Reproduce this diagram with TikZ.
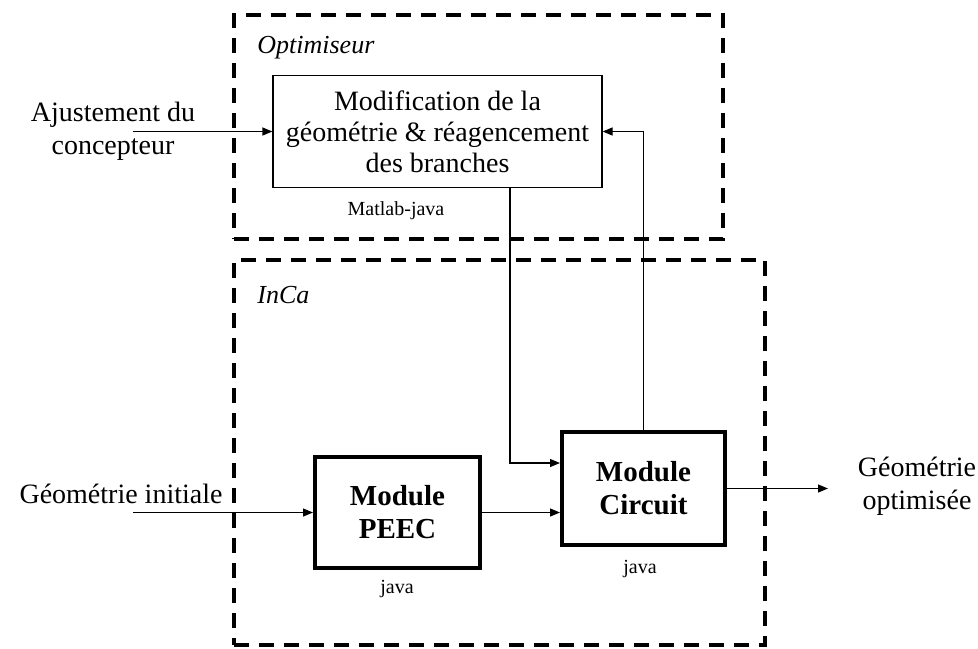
\documentclass[tikz,border=0pt]{standalone}
\usepackage{fontspec}
\setmainfont{Liberation Serif}
\usetikzlibrary{arrows.meta,calc}
\begin{document}
\begin{tikzpicture}[x=0.5pt,y=-0.5pt,
  groupbox/.style={draw,line width=1.8pt,dash pattern=on 7.5pt off 5pt,inner sep=0pt},
  thinbox/.style={draw,line width=0.6pt,inner sep=0pt,align=center,font=\fontsize{14}{15.5}\selectfont},
  modbox/.style={draw,line width=2pt,inner sep=0pt,align=center,font=\fontsize{14.5}{16.5}\selectfont\bfseries},
  lbl/.style={align=center,inner sep=0pt,font=\fontsize{14}{16.5}\selectfont},
  small/.style={inner sep=0pt,font=\fontsize{10}{12}\selectfont},
  title/.style={inner sep=0pt,anchor=west,font=\fontsize{13}{15}\selectfont\itshape},
  arr/.style={line width=0.6pt,-{Triangle[length=5pt,width=4pt]}},
  ln/.style={line width=0.6pt}]
\useasboundingbox (0,0) rectangle (978,648);
% group frames
\node[groupbox,minimum width=244.5pt,minimum height=112pt] (opt) at (478.5,127) {};
\node[groupbox,minimum width=265.5pt,minimum height=192.5pt] (inca) at (499.5,452.5) {};
\node[title] (optt) at (257,48) {Optimiseur};
\node[title] (incat) at (257,295) {InCa};
% blocks
\node[thinbox,minimum width=164.5pt,minimum height=56pt] (mod) at (437.5,131.5)
  {Modification de la\\g\'eom\'etrie \& r\'eagencement\\des branches};
\node[small] (mlj) at (396,211) {Matlab-java};
\node[modbox,minimum width=82.5pt,minimum height=55.5pt] (peec) at (397.5,512.5) {Module\\PEEC};
\node[small] (j1) at (397,589) {java};
\node[modbox,minimum width=81.5pt,minimum height=56.5pt] (circ) at (643.5,488.5) {Module\\Circuit};
\node[small] (j2) at (640,569) {java};
% external labels
\node[lbl] (ajust) at (113,131.5) {Ajustement du\\concepteur};
\node[lbl] (ginit) at (121,494) {G\'eom\'etrie initiale};
\node[lbl] (gopt) at (917,486.5) {G\'eom\'etrie\\optimis\'ee};
% connectors
\coordinate (a0) at (133,131.5);
\coordinate (g0) at (133,512.5);
\coordinate (d0) at (510,187);
\coordinate (c0) at (562,463);
\coordinate (o1) at (828,488.5);
\draw[arr] (a0) -- (mod.west);
\draw[arr] (g0) -- (peec.west);
\draw[arr] (circ.north) |- (mod.east);
\draw[arr] (mod.south -| d0) |- (circ.west |- c0);
\draw[arr] (peec.east) -- (circ.west |- peec.east);
\draw[arr] (circ.east) -- (o1);
\end{tikzpicture}
\end{document}
